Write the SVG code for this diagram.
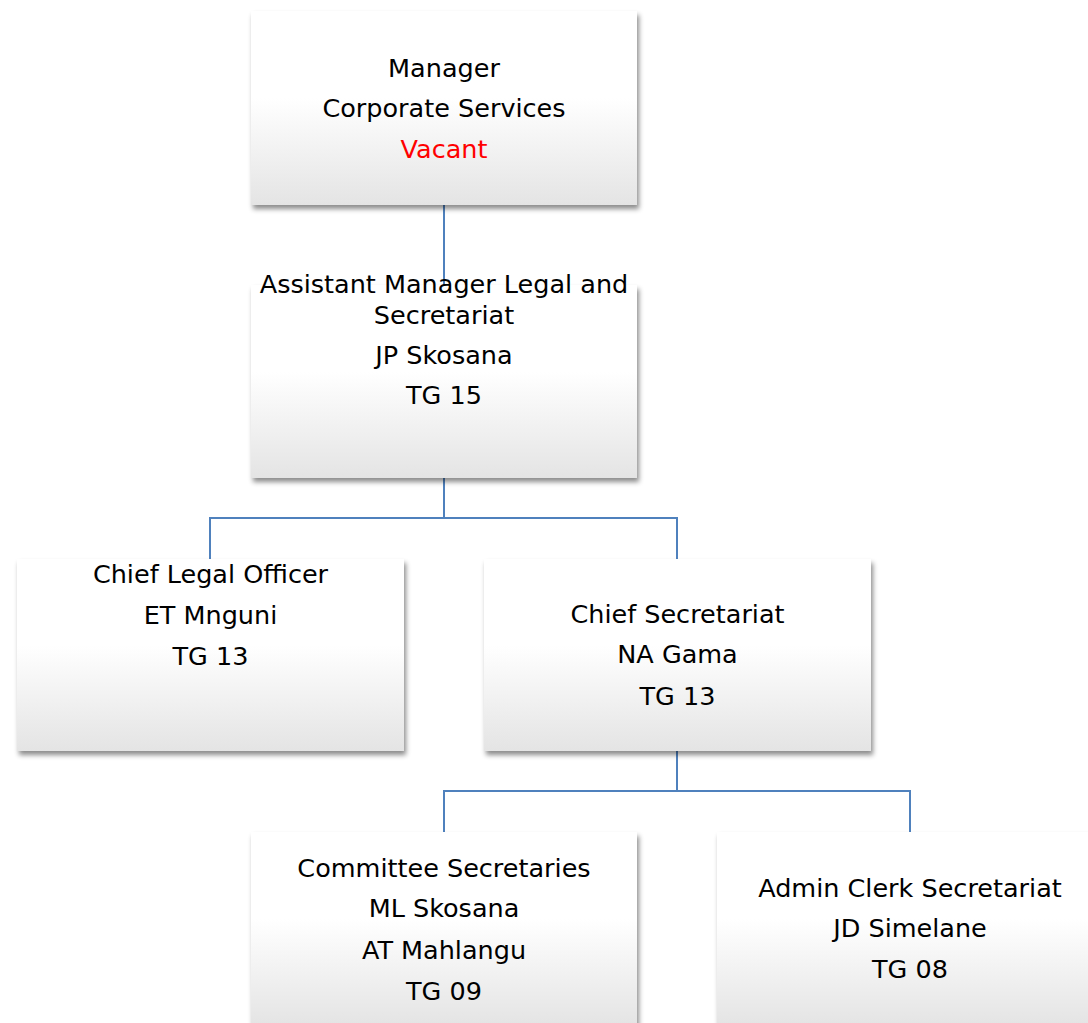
<svg xmlns="http://www.w3.org/2000/svg" width="1088" height="1023" viewBox="0 0 1088 1023">
<style>
.box{fill:url(#g);filter:url(#sh)}
.t{font-family:"DejaVu Sans","Liberation Sans",sans-serif;font-size:25.5px;fill:#000;text-anchor:middle}
.red{fill:#ff0000}
.c{fill:none;stroke:#4f81bd;stroke-width:2}
</style>
<defs>
<linearGradient id="g" x1="0" y1="0" x2="0" y2="1">
<stop offset="0" stop-color="#ffffff"/>
<stop offset="0.45" stop-color="#ffffff"/>
<stop offset="1" stop-color="#e4e4e4"/>
</linearGradient>
<filter id="sh" x="-10%" y="-10%" width="120%" height="130%">
<feDropShadow dx="2" dy="4" stdDeviation="2.5" flood-color="#000" flood-opacity="0.45"/>
</filter>
</defs>
<rect width="1088" height="1023" fill="#fff"/>
<g id="connectors">
<path class="c" d="M444 205V285"/>
<path class="c" d="M444 478V518H210V559M444 518H677V559"/>
<path class="c" d="M677 751V791H444V832M677 791H910V832"/>
</g>
<g id="n1">
<rect class="box" x="251" y="11" width="386" height="194"/>
<text class="t" x="444" y="77">Manager</text>
<text class="t" x="444" y="117">Corporate Services</text>
<text class="t red" x="444" y="158">Vacant</text>
</g>
<g id="n2">
<rect class="box" x="251" y="285" width="386" height="193"/>
<text class="t" x="444" y="293">Assistant Manager Legal and</text>
<text class="t" x="444" y="324">Secretariat</text>
<text class="t" x="444" y="364">JP Skosana</text>
<text class="t" x="444" y="404">TG 15</text>
</g>
<g id="n3">
<rect class="box" x="17" y="559" width="387" height="192"/>
<text class="t" x="210.5" y="583">Chief Legal Officer</text>
<text class="t" x="210.5" y="624">ET Mnguni</text>
<text class="t" x="210.5" y="665">TG 13</text>
</g>
<g id="n4">
<rect class="box" x="484" y="559" width="387" height="192"/>
<text class="t" x="677.5" y="623">Chief Secretariat</text>
<text class="t" x="677.5" y="663">NA Gama</text>
<text class="t" x="677.5" y="705">TG 13</text>
</g>
<g id="n5">
<rect class="box" x="251" y="832" width="386" height="193"/>
<text class="t" x="444" y="877">Committee Secretaries</text>
<text class="t" x="444" y="917">ML Skosana</text>
<text class="t" x="444" y="959">AT Mahlangu</text>
<text class="t" x="444" y="1000">TG 09</text>
</g>
<g id="n6">
<rect class="box" x="717" y="832" width="386" height="193"/>
<text class="t" x="910" y="897">Admin Clerk Secretariat</text>
<text class="t" x="910" y="937">JD Simelane</text>
<text class="t" x="910" y="978">TG 08</text>
</g>
</svg>
